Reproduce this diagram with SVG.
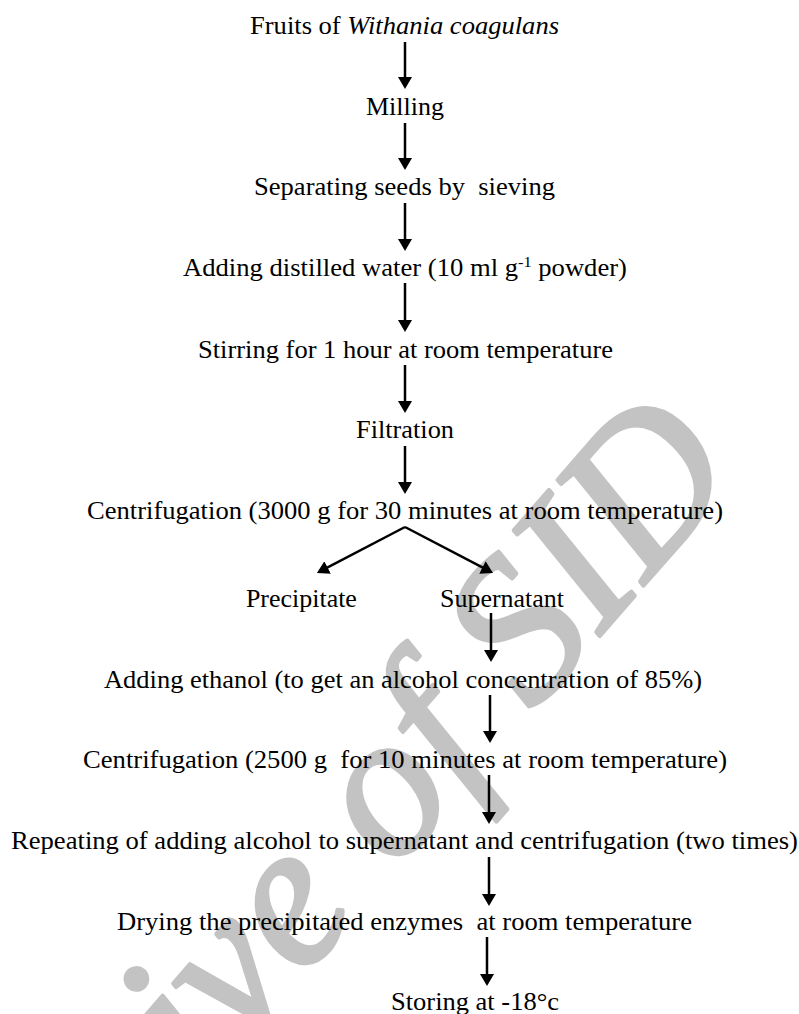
<svg xmlns="http://www.w3.org/2000/svg" width="799" height="1014" viewBox="0 0 799 1014">
<style>
  .t { font-family: "Liberation Serif", "Times New Roman", serif; font-size: 24.5px; fill: #000; text-anchor: middle; white-space: pre; }
  .it { font-style: italic; }
  .c { stroke: #000; stroke-width: 2.5; fill: none; }
  .wm { font-family: "Liberation Serif", "Times New Roman", serif; font-style: italic; font-size: 205px; fill: #c3c3c3; stroke: #c3c3c3; stroke-width: 4; stroke-linejoin: round; }
</style>
<defs>
  <marker id="ah" viewBox="0 0 12 14" refX="1" refY="7" markerWidth="12" markerHeight="14" markerUnits="userSpaceOnUse" orient="auto">
    <path d="M0,0 L12,7 L0,14 Z" fill="#000"/>
  </marker>
</defs>
<rect width="799" height="1014" fill="#fff"/>
<g id="watermark">
  <text class="wm" transform="translate(-52,1386) rotate(-49)">Archive of SID</text>
</g>
<g id="connectors">
  <line class="c" x1="405" y1="42" x2="405" y2="78" marker-end="url(#ah)"/>
  <line class="c" x1="405" y1="123" x2="405" y2="159" marker-end="url(#ah)"/>
  <line class="c" x1="405" y1="203" x2="405" y2="240" marker-end="url(#ah)"/>
  <line class="c" x1="405" y1="283" x2="405" y2="321" marker-end="url(#ah)"/>
  <line class="c" x1="405" y1="365" x2="405" y2="402" marker-end="url(#ah)"/>
  <line class="c" x1="405" y1="446" x2="405" y2="483" marker-end="url(#ah)"/>
  <line class="c" x1="405" y1="527" x2="326.7" y2="567.9" marker-end="url(#ah)"/>
  <line class="c" x1="405" y1="527" x2="483.3" y2="567.9" marker-end="url(#ah)"/>
  <line class="c" x1="491" y1="613" x2="491" y2="651" marker-end="url(#ah)"/>
  <line class="c" x1="490" y1="695" x2="490" y2="732" marker-end="url(#ah)"/>
  <line class="c" x1="489" y1="775" x2="489" y2="813" marker-end="url(#ah)"/>
  <line class="c" x1="489" y1="857" x2="489" y2="895" marker-end="url(#ah)"/>
  <line class="c" x1="487" y1="937" x2="487" y2="975" marker-end="url(#ah)"/>
</g>
<g id="n1"><text class="t" x="404.5" y="34" textLength="309" lengthAdjust="spacingAndGlyphs">Fruits of <tspan class="it">Withania coagulans</tspan></text></g>
<g id="n2"><text class="t" x="405" y="115" textLength="78" lengthAdjust="spacingAndGlyphs">Milling</text></g>
<g id="n3"><text class="t" x="404.5" y="195" textLength="301" lengthAdjust="spacingAndGlyphs">Separating seeds by  sieving</text></g>
<g id="n4"><text class="t" x="405" y="276" textLength="444" lengthAdjust="spacingAndGlyphs">Adding distilled water (10 ml g<tspan dy="-9" font-size="15">-1</tspan><tspan dy="9"> powder)</tspan></text></g>
<g id="n5"><text class="t" x="405.5" y="358" textLength="415" lengthAdjust="spacingAndGlyphs">Stirring for 1 hour at room temperature</text></g>
<g id="n6"><text class="t" x="405" y="438" textLength="98" lengthAdjust="spacingAndGlyphs">Filtration</text></g>
<g id="n7"><text class="t" x="405" y="519" textLength="636" lengthAdjust="spacingAndGlyphs">Centrifugation (3000 g for 30 minutes at room temperature)</text></g>
<g id="n8"><text class="t" x="301.4" y="607" textLength="111" lengthAdjust="spacingAndGlyphs">Precipitate</text></g>
<g id="n9"><text class="t" x="502" y="607" textLength="124" lengthAdjust="spacingAndGlyphs">Supernatant</text></g>
<g id="n10"><text class="t" x="403" y="688" textLength="598" lengthAdjust="spacingAndGlyphs">Adding ethanol (to get an alcohol concentration of 85%)</text></g>
<g id="n11"><text class="t" x="405" y="768" textLength="644" lengthAdjust="spacingAndGlyphs">Centrifugation (2500 g  for 10 minutes at room temperature)</text></g>
<g id="n12"><text class="t" x="404.5" y="849" textLength="787" lengthAdjust="spacingAndGlyphs">Repeating of adding alcohol to supernatant and centrifugation (two times)</text></g>
<g id="n13"><text class="t" x="404.5" y="930" textLength="575" lengthAdjust="spacingAndGlyphs">Drying the precipitated enzymes  at room temperature</text></g>
<g id="n14"><text class="t" x="475" y="1010" textLength="168" lengthAdjust="spacingAndGlyphs">Storing at -18°c</text></g>
</svg>
